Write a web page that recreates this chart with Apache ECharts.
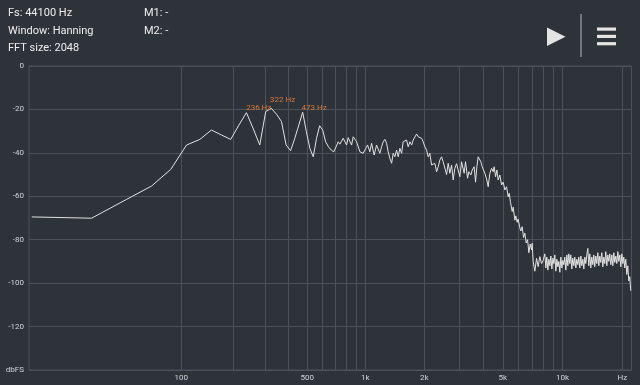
<!DOCTYPE html>
<html>
<head>
<meta charset="utf-8">
<script src="https://cdn.jsdelivr.net/npm/echarts@6/dist/echarts.min.js"></script>
<style>
html,body{margin:0;padding:0;background:#2e333a;}
#chart{width:640px;height:385px;}
</style>
</head>
<body>
<div id="chart"></div>
<script>
// ---- data ----
const sampleRate = 44100;
const fftSize = 2048;
const freqHz = [0,21.5,43.1,64.6,86.1,107.7,129.2,150.7,172.3,193.8,215.3,236.9,258.4,279.9,301.5,323.0,344.5,366.1,387.6,409.1,430.7,452.2,473.7,495.3,516.8,538.3,559.9,581.4,602.9,624.5,646.0,667.5,689.1,
726,740,770,802,817,851,867,903,939,976,1028,1056,1078,1111,1143,1165,1188,1213,1236,1261,1287,1311,1337,1365,1390,1418,1447,1475,1504,1535,1563,1594,1627,1658,1691,1726,1758,1793,1830,1864,1901,1940,1976,
2015,2056,2095,2136,2180,2221,2265,2311,2355,2401,2450,2496,2545,2597,2646,2698,2753,2804,2859,2917,2973,3031,3093,3150,3187,3239,3317,3367,3447,3500,3581,3640,3696,3753,3813,3872,3932,3996,
4056,4138,4216,4298,4386,4468,4520,4594,4665,4736,4829,4927,5020,5118,5222,5320,5381,5469,5573,5637,5747,5815,5904,5973,6089,6162,6257,6360,6455,6555,6663,6763,6865,6979,7028,7110,7249,7396,7535,7682,7837,7983,
8140,8240,8330,8430,8530,8630,8730,8830,8940,9040,9140,9250,9360,9470,9580,9690,9800,9920,10030,10150,10260,10390,10510,10630,10750,10880,11000,11130,11260,11390,11520,11660,11800,11940,12070,12210,12360,12500,12650,12790,
12940,13090,13250,13400,13550,13710,13870,14030,14200,14360,14520,14700,14870,15040,15220,15390,15570,15760,15940,16130,16310,16500,16700,16890,17090,17280,17490,17700,17900,18110,18310,18530,18750,18970,19190,19410,19640,19870,20100,20330,20560,20800,21050,21290,21540,21790,22030];
const levelDb = [-69.5,-70.1,-61.4,-55.3,-47.6,-36.4,-33.8,-29.5,-31.8,-33.8,-27.2,-21.5,-29.0,-36.4,-21.0,-19.5,-22.2,-25.6,-36.4,-39.0,-33.3,-27.2,-21.3,-30.2,-37.9,-41.8,-33.3,-27.5,-29.5,-34.9,-37.2,-38.7,-39.5,
-34.9,-36.0,-33.3,-36.4,-33.0,-36.4,-32.6,-34.9,-39.5,-40.2,-36.4,-39.5,-35.6,-41.0,-36.4,-35.6,-40.2,-37.2,-34.9,-33.8,-35.6,-39.5,-42.5,-44.8,-40.2,-41.8,-38.7,-41.8,-37.9,-40.2,-34.9,-35.6,-34.1,-37.2,-34.9,-36.4,-34.1,-33.3,-31.3,-32.6,-31.8,-33.3,-34.9,
-37.2,-38.7,-41.8,-40.2,-45.6,-46.4,-44.8,-48.7,-46.4,-43.3,-41.8,-44.1,-45.0,-50.0,-44.8,-49.4,-45.6,-52.5,-47.1,-45.0,-48.0,-51.0,-44.1,-45.0,-49.4,-44.1,-51.7,-48.7,-50.2,-47.9,-46.4,-53.5,-46.4,-41.8,-41.0,-44.1,-46.4,-45.5,
-49.4,-52.0,-55.6,-49.4,-47.1,-48.7,-46.4,-51.0,-47.9,-52.5,-50.2,-54.8,-53.5,-57.1,-55.6,-60.2,-58.6,-63.0,-67.0,-65.0,-71.0,-69.0,-72.0,-70.5,-74.5,-76.0,-74.0,-79.0,-77.0,-81.5,-80.0,-86.0,-82.0,-84.7,-81.6,-90.0,-94.5,-88.6,-92.4,-87.8,-91.0,-89.5,
-86.5,-93,-88,-94,-89,-92,-87.5,-93.5,-88.5,-91,-87,-94.5,-89,-92.5,-90,-95,-88,-93,-89.5,-91.5,-88,-94,-87,-92,-86.5,-91,-87,-93.5,-88.5,-92,-88,-93,-89,-91.5,-88,-93,-87.5,-92,-89,-93.5,
-88,-91,-87,-84,-92,-86.5,-93,-88,-91.5,-87,-92.5,-87.5,-91,-86,-92,-87.5,-90.5,-86,-92.5,-88,-91,-85.5,-92,-87,-90,-86.5,-91.5,-87,-92,-86,-90.5,-87.5,-91,-85.5,-90,-87,-92.5,-86.5,-91,-88,-93,-89,-96,-92,-99,-97,-103.5];
const peakHz = [236, 322, 473];
const peakDb = [-21.5, -19.5, -21.3];
const gridHz = [100,200,300,400,500,600,700,800,900,1000,2000,3000,4000,5000,6000,7000,8000,9000,10000,20000];
const xLabelHz = [100,500,1000,2000,5000,10000,20000];
const xLabelText = ['100','500','1k','2k','5k','10k','Hz'];
const yMin = -140, yMax = 0, yStep = 20;
const infoLines = ['Fs: 44100 Hz','Window: Hanning','FFT size: 2048'];
const markerLines = ['M1: -','M2: -'];

// ---- frequency scale (log of FFT bin position) ----
const binHz = sampleRate / fftSize;
const toAxis = f => Math.log10(f / binHz + 1);

const lineData = freqHz.map((f, i) => [toAxis(f), levelDb[i]]);
const peakOffsets = [[0,-9],[-1,-12],[-1,-8]];

const chart = echarts.init(document.getElementById('chart'), null, {renderer:'canvas'});
const gridColor = '#4d525a';
const textColor = '#d2d4d7';

chart.setOption({
  backgroundColor: '#2e333a',
  animation: false,
  grid: {left: 29, right: 8.5, top: 66, bottom: 15, show: true, borderColor: gridColor, borderWidth: 1, backgroundColor: 'transparent'},
  xAxis: {
    type: 'value',
    min: -0.0135,
    max: 3.0142,
    axisLine: {show: false},
    axisTick: {show: false, customValues: gridHz.map(toAxis)},
    splitLine: {show: true, lineStyle: {color: gridColor, width: 1}},
    axisLabel: {
      customValues: xLabelHz.map(toAxis),
      margin: 4,
      fontFamily: 'Roboto',
      fontSize: 8,
      color: textColor,
      formatter: v => {
        let best = 0, d = Infinity;
        xLabelHz.forEach((h, i) => { const dd = Math.abs(toAxis(h) - v); if (dd < d) { d = dd; best = i; } });
        return xLabelText[best];
      }
    }
  },
  yAxis: {
    type: 'value',
    min: yMin, max: yMax, interval: yStep,
    axisLine: {show: false},
    axisTick: {show: false},
    splitLine: {show: true, lineStyle: {color: gridColor, width: 1}},
    axisLabel: {
      margin: 5,
      fontFamily: 'Roboto',
      fontSize: 8,
      color: textColor,
      formatter: v => (v === yMin ? 'dbFS' : String(v))
    }
  },
  series: [{
    type: 'line',
    data: lineData,
    showSymbol: false,
    symbol: 'none',
    lineStyle: {color: '#e2e2e2', width: 1},
    markPoint: {
      symbol: 'circle',
      symbolSize: 0,
      data: peakHz.map((h, i) => ({
        coord: [toAxis(h), peakDb[i]],
        label: {
          show: true,
          position: peakOffsets[i],
          formatter: h + ' Hz',
          color: '#d9783a',
          fontFamily: 'Roboto',
          fontSize: 8
        }
      }))
    }
  }],
  graphic: [
    ...infoLines.map((t, i) => ({type: 'text', left: 8, top: 8 + i * 17.5, style: {text: t, fill: '#eeeeee', font: '11px Roboto'}})),
    ...markerLines.map((t, i) => ({type: 'text', left: 144, top: 8 + i * 17.5, style: {text: t, fill: '#eeeeee', font: '11px Roboto'}})),
    {type: 'polygon', shape: {points: [[547,27.5],[547,46],[565.5,36.7]]}, style: {fill: '#e4e4e4'}},
    {type: 'line', shape: {x1: 581, y1: 14, x2: 581, y2: 57}, style: {stroke: '#8b8e93', lineWidth: 1.5}},
    {type: 'rect', shape: {x: 597, y: 27.5, width: 19, height: 3.2}, style: {fill: '#e4e4e4'}},
    {type: 'rect', shape: {x: 597, y: 34.8, width: 19, height: 3.2}, style: {fill: '#e4e4e4'}},
    {type: 'rect', shape: {x: 597, y: 42.1, width: 19, height: 3.2}, style: {fill: '#e4e4e4'}}
  ]
});
</script>
</body>
</html>
